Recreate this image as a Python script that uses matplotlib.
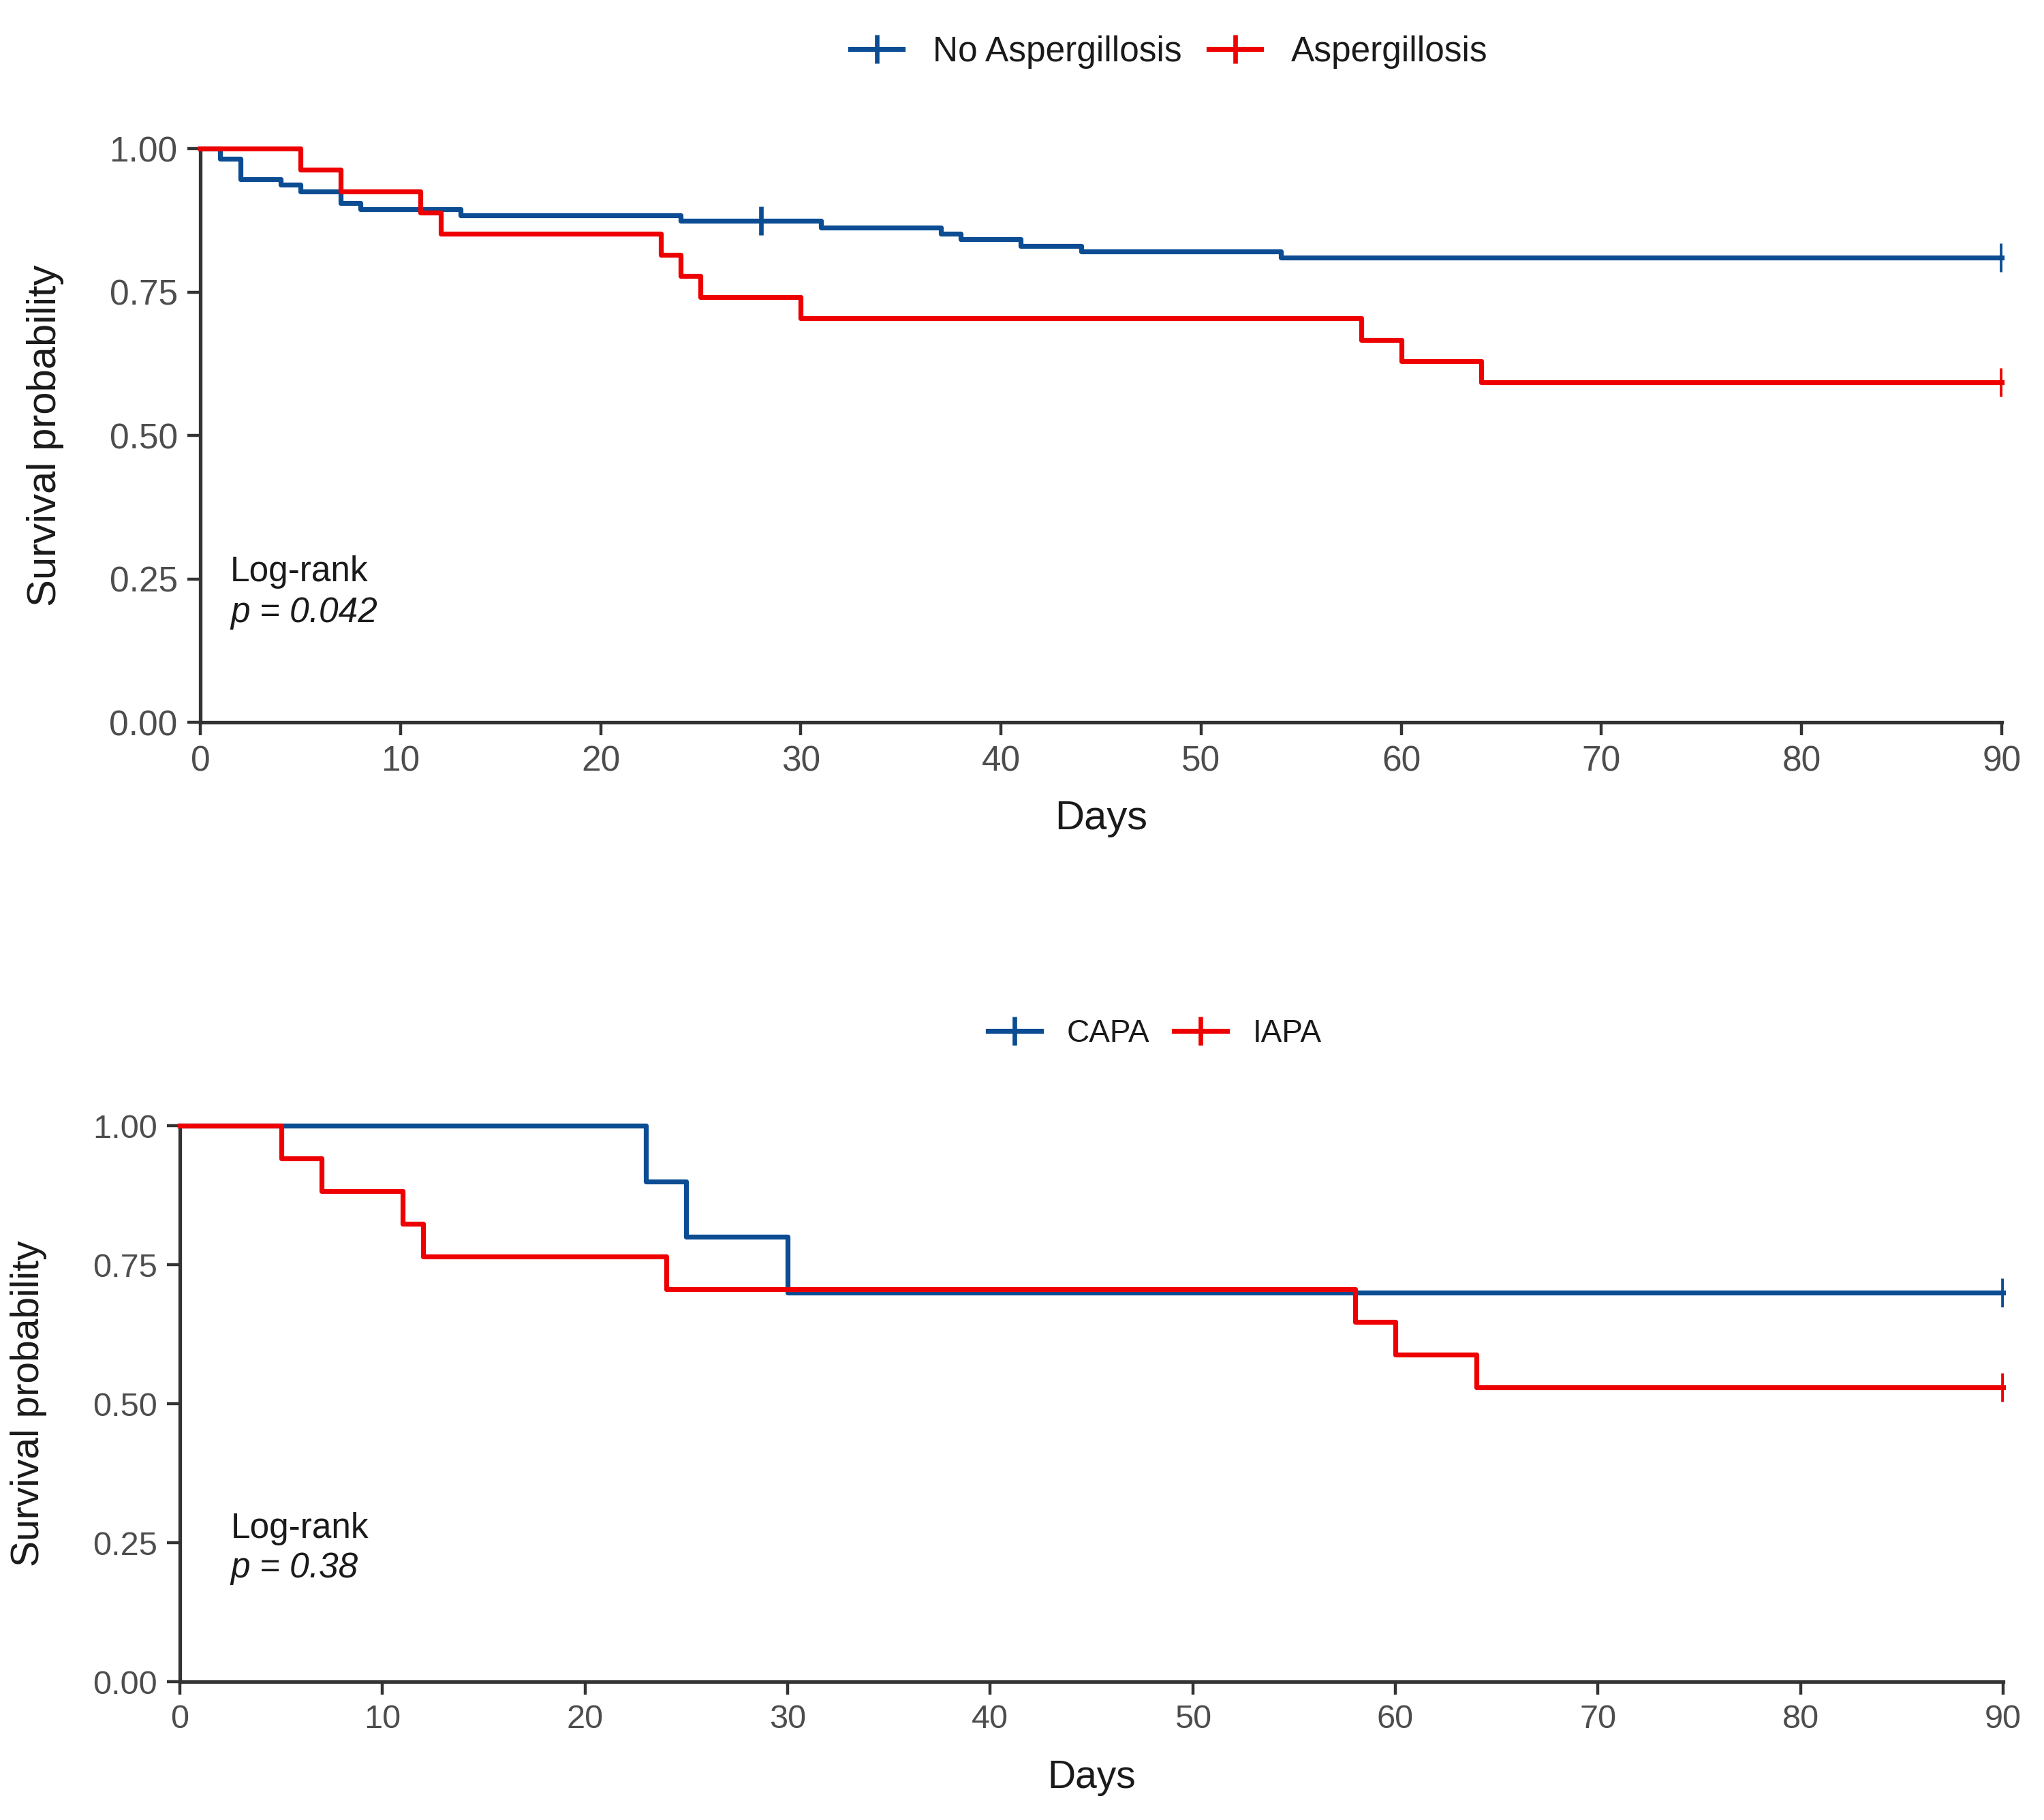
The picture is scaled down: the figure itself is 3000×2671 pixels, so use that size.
import numpy as np
import matplotlib
matplotlib.use("Agg")
import matplotlib.pyplot as plt
from matplotlib.lines import Line2D

plt.rcParams['font.family'] = ['Liberation Sans', 'DejaVu Sans']

# ---------------- data ----------------
# Top panel: No Aspergillosis vs Aspergillosis
t_no = [0, 1, 2, 4, 5, 7, 8, 13, 24, 31, 37, 38, 41, 44, 54]
s_no = [1.0, 0.983, 0.947, 0.937, 0.925, 0.905, 0.895, 0.884, 0.874, 0.863, 0.852, 0.842, 0.831, 0.821, 0.810]
c_no = [28, 90]

t_asp = [0, 5, 7, 11, 12, 23, 24, 25, 30, 58, 60, 64]
s_asp = [1.0, 0.963, 0.926, 0.889, 0.852, 0.815, 0.778, 0.741, 0.704, 0.667, 0.630, 0.593]
c_asp = [90]

# Bottom panel: CAPA vs IAPA
t_capa = [0, 23, 25, 30]
s_capa = [1.0, 0.9, 0.8, 0.7]
c_capa = [90]

t_iapa = [0, 5, 7, 11, 12, 24, 58, 60, 64]
s_iapa = [1.0, 0.941, 0.882, 0.824, 0.765, 0.706, 0.647, 0.588, 0.529]
c_iapa = [90]

x_ticks = [0, 10, 20, 30, 40, 50, 60, 70, 80, 90]
y_ticks = [0.00, 0.25, 0.50, 0.75, 1.00]
y_ticklabels = ["0.00", "0.25", "0.50", "0.75", "1.00"]

BLUE = '#0B4C92'
RED = '#EE0000'
AXC = '#333333'
TICKC = '#4d4d4d'
XMAX = 90
LW = 2.6


def surv_at(times, surv, t):
    i = np.searchsorted(times, t, side='right') - 1
    return surv[i]


def km(ax, times, surv, cens, color):
    xs = list(times) + [XMAX]
    ys = list(surv) + [surv[-1]]
    ax.step(xs, ys, where='post', color=color, lw=LW, clip_on=False, zorder=3)
    cy = [surv_at(times, surv, c) for c in cens]
    ax.plot(cens, cy, linestyle='none', marker='+', ms=15, mew=2.4,
            color=color, clip_on=True, zorder=4)


def style(ax, tick_fs, label_fs, ylab_x, xlab_y):
    ax.set_xlim(0, XMAX)
    ax.set_ylim(0, 1)
    ax.set_xticks(x_ticks)
    ax.set_yticks(y_ticks)
    ax.set_yticklabels(y_ticklabels)
    for sp in ['top', 'right']:
        ax.spines[sp].set_visible(False)
    for sp in ['left', 'bottom']:
        ax.spines[sp].set_color(AXC)
        ax.spines[sp].set_linewidth(1.9)
    ax.tick_params(axis='both', length=7, width=1.6, color=AXC,
                   labelcolor=TICKC, labelsize=tick_fs, pad=5)
    ax.set_xlabel('Days', fontsize=label_fs, color='#1a1a1a')
    ax.set_ylabel('Survival probability', fontsize=label_fs, color='#1a1a1a')
    ax.yaxis.set_label_coords(ylab_x, 0.5)
    ax.xaxis.set_label_coords(0.5, xlab_y)


fig = plt.figure(figsize=(15, 13.355), dpi=200)

# ---------------- top panel ----------------
ax1 = fig.add_axes([0.098, 0.6031, 0.8813, 0.3152])
km(ax1, t_no, s_no, c_no, BLUE)
km(ax1, t_asp, s_asp, c_asp, RED)
style(ax1, 18.5, 21.5, -0.0756, -0.135)
ax1.text(1.5, 0.246, 'Log-rank', fontsize=18.5, color='#1a1a1a', ha='left', va='baseline')
ax1.text(1.5, 0.175, 'p = 0.042', fontsize=18.5, color='#1a1a1a', ha='left', va='baseline',
         fontstyle='italic')

h1 = [Line2D([], [], color=BLUE, lw=LW, marker='+', ms=15, mew=2.4),
      Line2D([], [], color=RED, lw=LW, marker='+', ms=15, mew=2.4)]
fig.legend(h1, ['No Aspergillosis', 'Aspergillosis'], loc='center',
           bbox_to_anchor=(0.572, 0.9712), ncol=2, frameon=False,
           fontsize=18.5, handlelength=1.5, handletextpad=0.86,
           columnspacing=0.76, labelcolor='#1a1a1a')

# ---------------- bottom panel ----------------
ax2 = fig.add_axes([0.088, 0.0760, 0.892, 0.3055])
km(ax2, t_capa, s_capa, c_capa, BLUE)
km(ax2, t_iapa, s_iapa, c_iapa, RED)
style(ax2, 17.5, 20.5, -0.0729, -0.14)
ax2.text(2.5, 0.259, 'Log-rank', fontsize=18.5, color='#1a1a1a', ha='left', va='baseline')
ax2.text(2.5, 0.1875, 'p = 0.38', fontsize=18.5, color='#1a1a1a', ha='left', va='baseline',
         fontstyle='italic')

h2 = [Line2D([], [], color=BLUE, lw=LW, marker='+', ms=15, mew=2.4),
      Line2D([], [], color=RED, lw=LW, marker='+', ms=15, mew=2.4)]
fig.legend(h2, ['CAPA', 'IAPA'], loc='center',
           bbox_to_anchor=(0.565, 0.4320), ncol=2, frameon=False,
           fontsize=16.5, handlelength=1.7, handletextpad=0.82,
           columnspacing=0.77, labelcolor='#1a1a1a')

fig.savefig('out.png', dpi=200, facecolor='white')
